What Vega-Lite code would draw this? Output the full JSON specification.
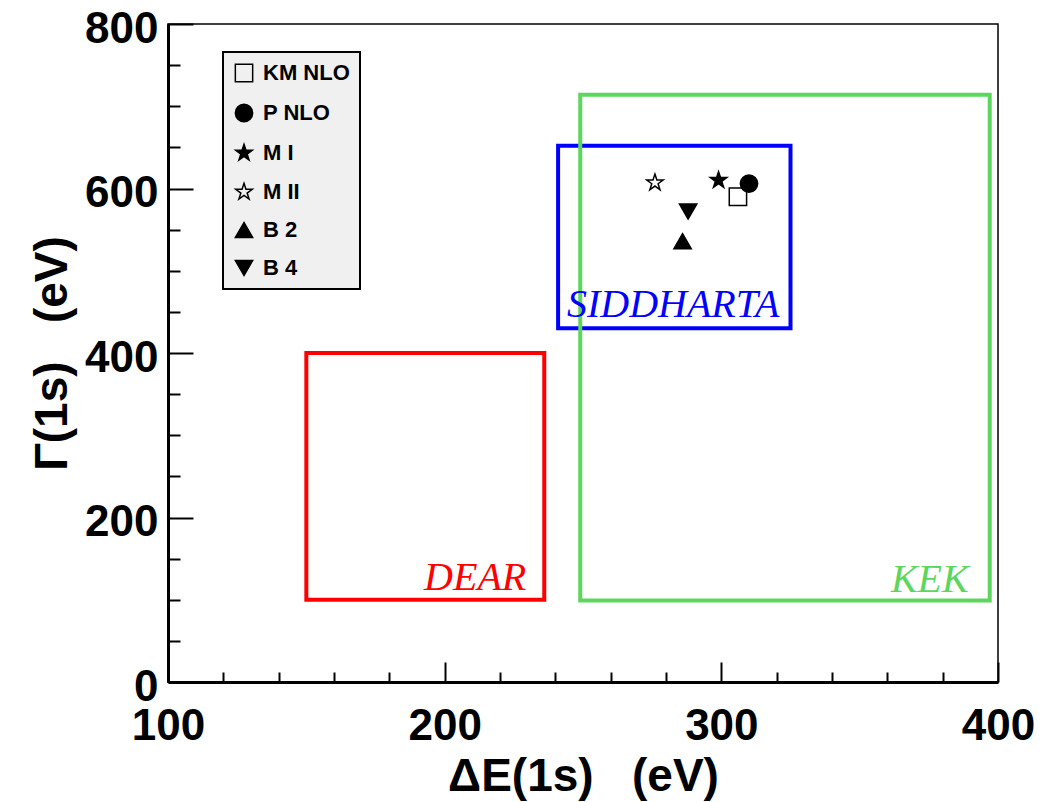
{
  "$schema": "https://vega.github.io/schema/vega-lite/v6.json",
  "autosize": {"type": "none"},
  "padding": {"left": 168, "top": 24, "right": 44, "bottom": 120},
  "width": 830,
  "height": 658,
  "background": "white",
  "config": {
    "font": "Liberation Sans",
    "view": {"stroke": "black", "strokeWidth": 1.5},
    "axis": {"grid": false, "tickColor": "black", "tickWidth": 2, "domainColor": "black", "labelColor": "black", "titleColor": "black"},
    "legend": {
      "orient": "none",
      "legendX": 55,
      "legendY": 28,
      "fillColor": "#f0f0f0",
      "strokeColor": "black",
      "strokeWidth": 2,
      "padding": 10,
      "symbolSize": 300,
      "symbolStrokeWidth": 1.5,
      "labelFont": "Liberation Sans",
      "labelFontWeight": "bold",
      "labelFontSize": 22,
      "labelColor": "black",
      "labelOffset": 8,
      "rowPadding": 16
    }
  },
  "datasets": {
    "boxes": [
      {"experiment": "DEAR", "dE_lo": 150, "dE_hi": 236, "g_lo": 100, "g_hi": 400},
      {"experiment": "SIDDHARTA", "dE_lo": 241, "dE_hi": 325, "g_lo": 430, "g_hi": 652},
      {"experiment": "KEK", "dE_lo": 249, "dE_hi": 397, "g_lo": 99, "g_hi": 714}
    ],
    "predictions": [
      {"model": "KM NLO", "dE": 306, "gamma": 590},
      {"model": "P NLO", "dE": 310, "gamma": 606},
      {"model": "M I", "dE": 299, "gamma": 610},
      {"model": "M II", "dE": 276, "gamma": 607},
      {"model": "B 2", "dE": 286, "gamma": 536},
      {"model": "B 4", "dE": 288, "gamma": 572}
    ]
  },
  "resolve": {"axis": {"x": "independent", "y": "independent"}},
  "layer": [
    {
      "data": {"name": "boxes"},
      "mark": {"type": "rect", "filled": false, "strokeWidth": 4},
      "encoding": {
        "x": {
          "field": "dE_lo", "type": "quantitative",
          "scale": {"domain": [100, 400], "nice": false, "zero": false},
          "axis": {
            "orient": "bottom",
            "values": [100, 200, 300, 400],
            "tickSize": -20,
            "domain": true, "domainWidth": 3,
            "labelFont": "Liberation Sans", "labelFontWeight": "bold", "labelFontSize": 44,
            "labelPadding": 42, "labelFlush": false, "labelOverlap": false,
            "title": "ΔE(1s)\u00a0\u00a0\u00a0(eV)",
            "titleFont": "Liberation Sans", "titleFontWeight": "bold", "titleFontSize": 46,
            "titlePadding": 6
          }
        },
        "x2": {"field": "dE_hi"},
        "y": {
          "field": "g_lo", "type": "quantitative",
          "scale": {"domain": [0, 800], "nice": false, "zero": false},
          "axis": {
            "orient": "left",
            "values": [0, 200, 400, 600, 800],
            "tickSize": -25,
            "domain": true, "domainWidth": 3,
            "labelFont": "Liberation Sans", "labelFontWeight": "bold", "labelFontSize": 44,
            "labelPadding": 35, "labelOffset": 5, "labelFlush": false, "labelOverlap": false,
            "title": "Γ(1s)\u00a0\u00a0\u00a0(eV)",
            "titleFont": "Liberation Sans", "titleFontWeight": "bold", "titleFontSize": 46,
            "titlePadding": 8
          }
        },
        "y2": {"field": "g_hi"},
        "stroke": {
          "field": "experiment", "type": "nominal",
          "scale": {"domain": ["DEAR", "SIDDHARTA", "KEK"], "range": ["#ff0000", "#0000ff", "#5cd65c"]},
          "legend": null
        }
      }
    },
    {
      "data": {"name": "boxes"},
      "transform": [{"filter": "datum.experiment === 'DEAR'"}],
      "mark": {"type": "text", "font": "Liberation Serif", "fontStyle": "italic", "fontSize": 40, "align": "right", "baseline": "alphabetic", "dx": -18, "dy": -10, "color": "#ff0000"},
      "encoding": {
        "x": {"field": "dE_hi", "type": "quantitative", "axis": null},
        "y": {"field": "g_lo", "type": "quantitative", "axis": null},
        "text": {"field": "experiment"}
      }
    },
    {
      "data": {"name": "boxes"},
      "transform": [{"filter": "datum.experiment === 'SIDDHARTA'"}],
      "mark": {"type": "text", "font": "Liberation Serif", "fontStyle": "italic", "fontSize": 40, "align": "right", "baseline": "alphabetic", "dx": -11, "dy": -11, "color": "#0000ff"},
      "encoding": {
        "x": {"field": "dE_hi", "type": "quantitative", "axis": null},
        "y": {"field": "g_lo", "type": "quantitative", "axis": null},
        "text": {"field": "experiment"}
      }
    },
    {
      "data": {"name": "boxes"},
      "transform": [{"filter": "datum.experiment === 'KEK'"}],
      "mark": {"type": "text", "font": "Liberation Serif", "fontStyle": "italic", "fontSize": 40, "align": "right", "baseline": "alphabetic", "dx": -21, "dy": -9, "color": "#5cd65c"},
      "encoding": {
        "x": {"field": "dE_hi", "type": "quantitative", "axis": null},
        "y": {"field": "g_lo", "type": "quantitative", "axis": null},
        "text": {"field": "experiment"}
      }
    },
    {
      "data": {"name": "predictions"},
      "mark": {"type": "point", "filled": false, "size": 300, "stroke": "black", "strokeWidth": 1.5, "opacity": 1, "fillOpacity": 1, "strokeOpacity": 1},
      "encoding": {
        "x": {
          "field": "dE", "type": "quantitative",
          "axis": {
            "orient": "bottom",
            "values": [120, 140, 160, 180, 220, 240, 260, 280, 320, 340, 360, 380],
            "tickSize": -10, "labels": false, "domain": false, "title": null
          }
        },
        "y": {
          "field": "gamma", "type": "quantitative",
          "axis": {
            "orient": "left",
            "values": [50, 100, 150, 250, 300, 350, 450, 500, 550, 650, 700, 750],
            "tickSize": -12, "labels": false, "domain": false, "title": null
          }
        },
        "shape": {
          "field": "model", "type": "nominal",
          "scale": {
            "domain": ["KM NLO", "P NLO", "M I", "M II", "B 2", "B 4"],
            "range": [
              "square",
              "circle",
              "M0,-1L0.2245,-0.309L0.951,-0.309L0.363,0.118L0.588,0.809L0,0.382L-0.588,0.809L-0.363,0.118L-0.951,-0.309L-0.2245,-0.309Z",
              "M0,-1L0.2245,-0.309L0.951,-0.309L0.363,0.118L0.588,0.809L0,0.382L-0.588,0.809L-0.363,0.118L-0.951,-0.309L-0.2245,-0.309Z",
              "triangle-up",
              "triangle-down"
            ]
          },
          "legend": {"title": null}
        },
        "fill": {
          "field": "model", "type": "nominal",
          "scale": {
            "domain": ["KM NLO", "P NLO", "M I", "M II", "B 2", "B 4"],
            "range": ["transparent", "black", "black", "transparent", "black", "black"]
          },
          "legend": {"title": null}
        }
      }
    }
  ]
}
